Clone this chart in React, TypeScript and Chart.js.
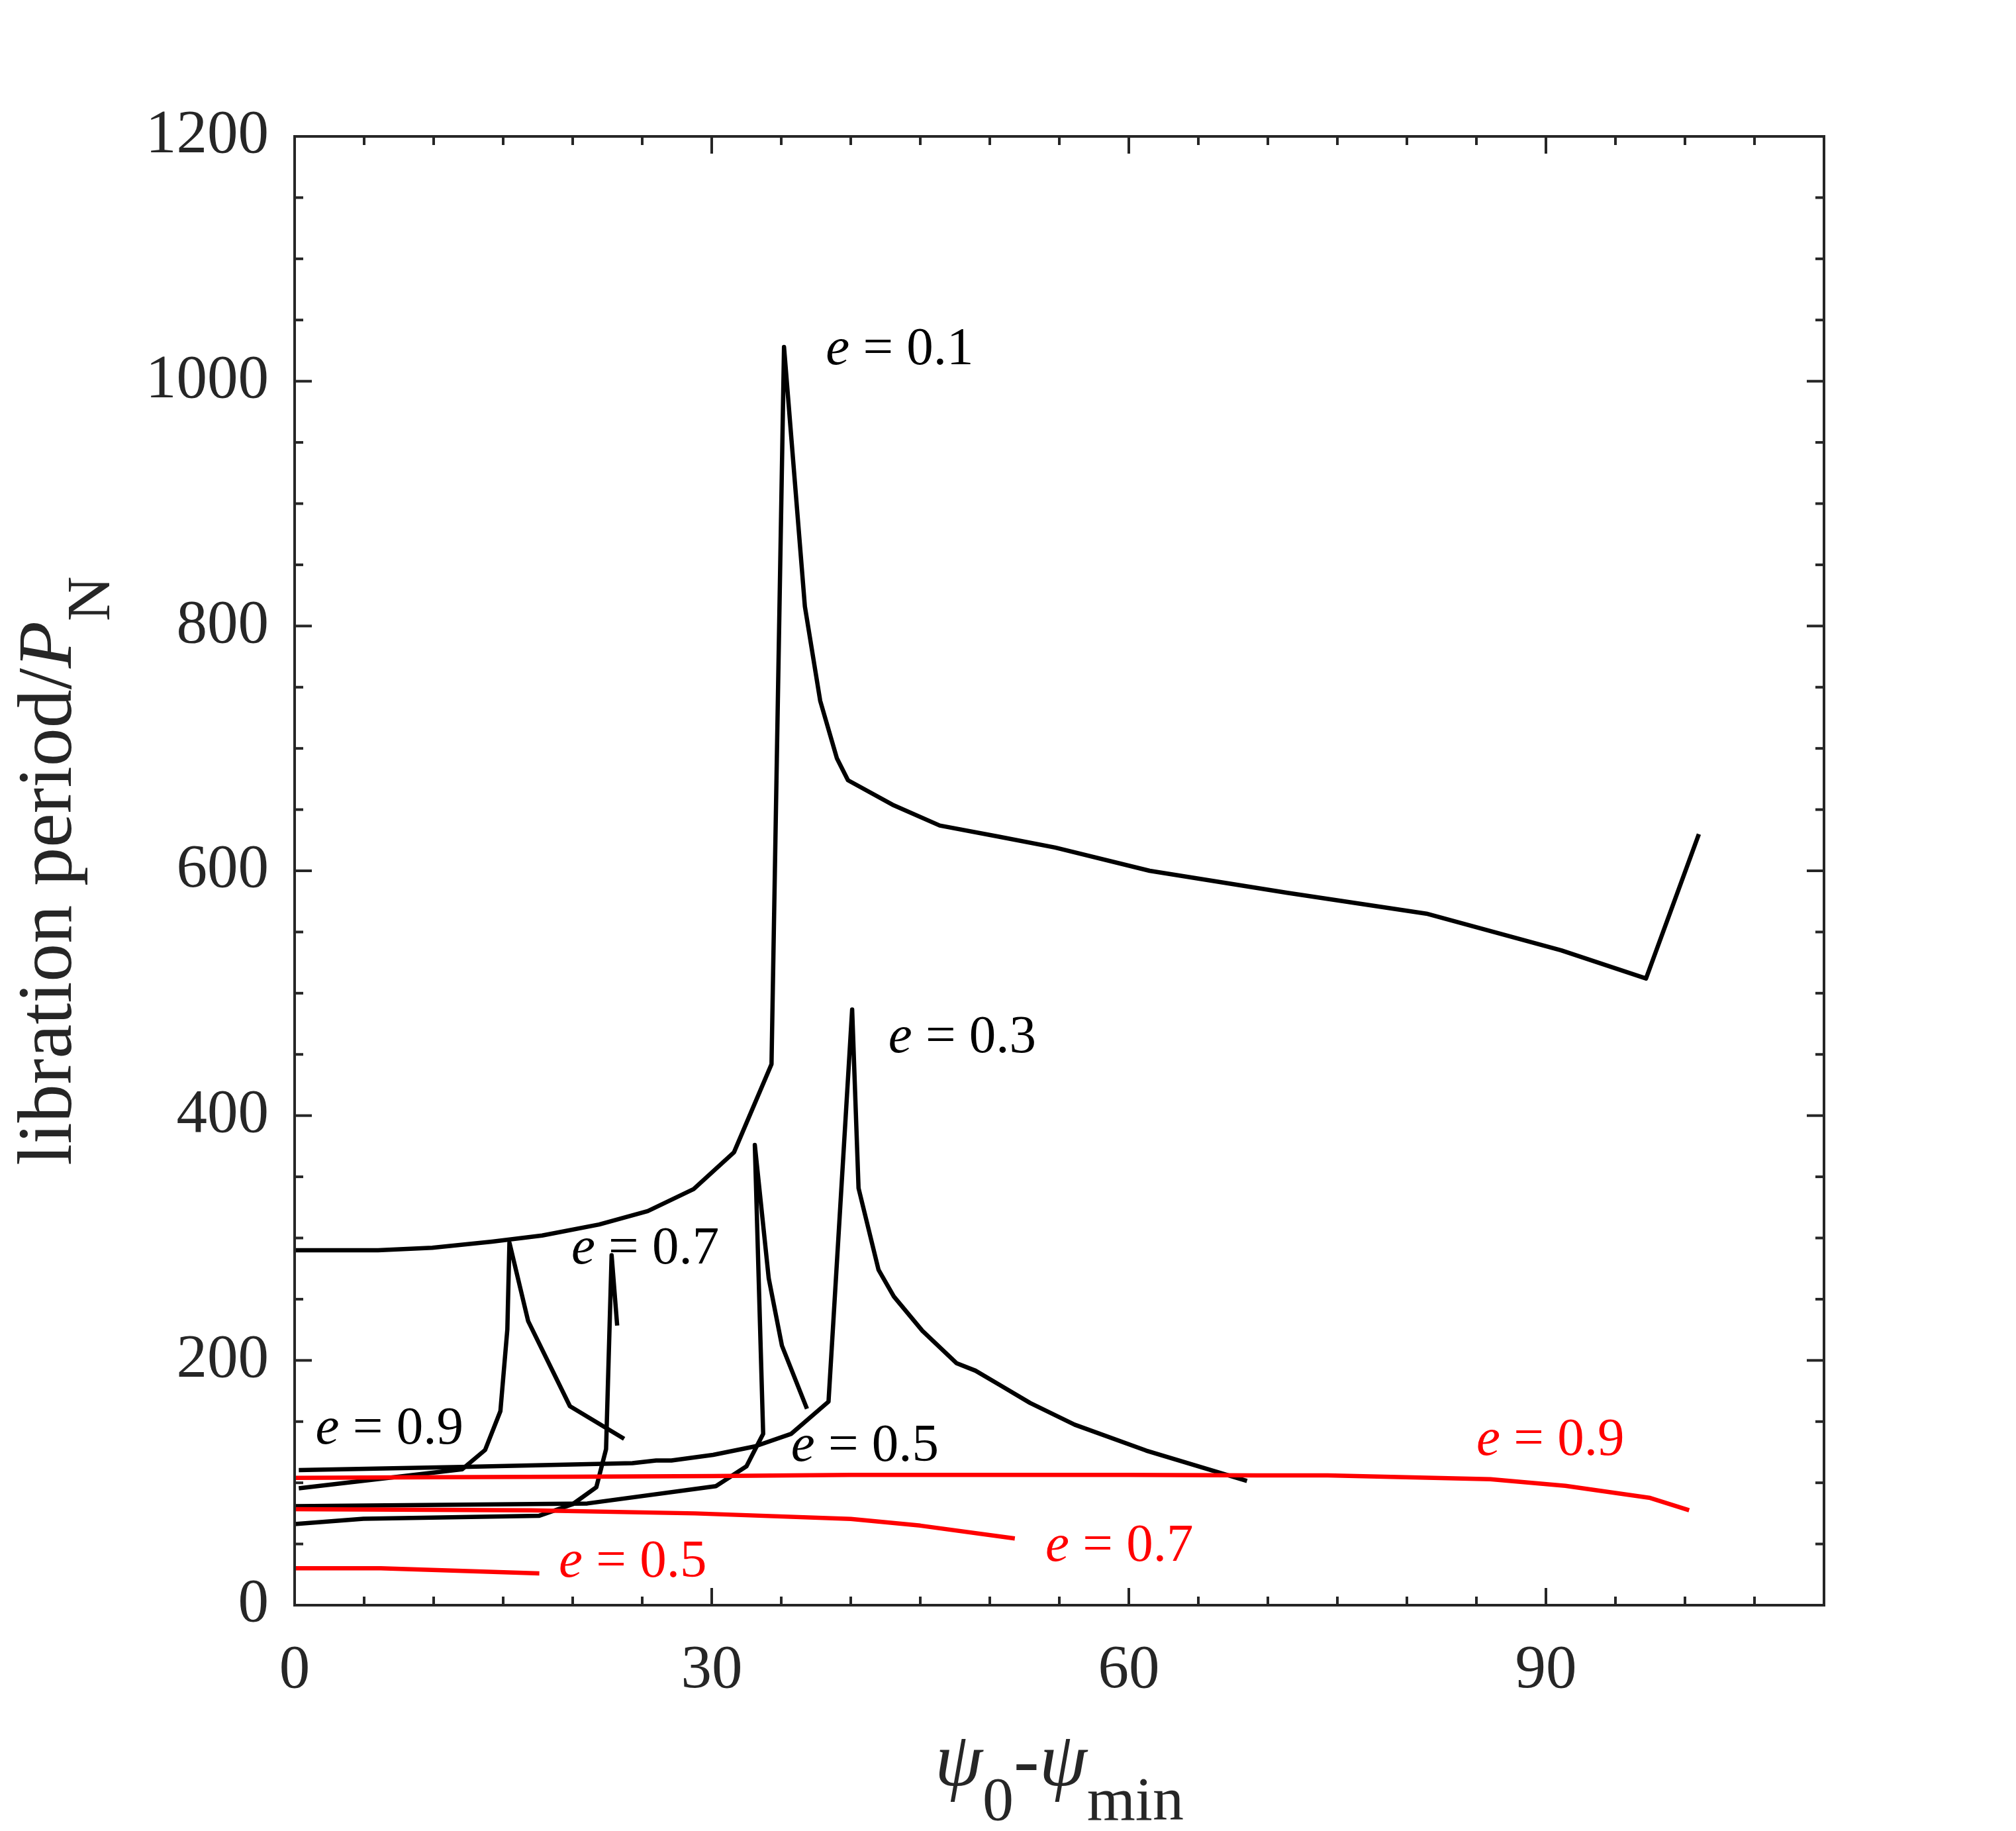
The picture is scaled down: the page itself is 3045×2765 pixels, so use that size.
import React, { useEffect, useRef } from "react";
import { Chart, registerables } from "chart.js";

Chart.register(...registerables);

const W = 3045;
const H = 2765;
const AXIS = "#262626";
const SERIF = "'Liberation Serif', 'Times New Roman', serif";

// black curves, [psi0 - psimin, libration period / P_N]
const e01Black: [number, number][] = [
  [0, 290], [6, 290], [9.9, 292], [14.2, 297], [17.8, 302], [21.9, 311],
  [25.4, 322], [28.7, 340], [31.6, 370], [34.3, 442], [35.2, 1028],
  [36.7, 816], [37.8, 739], [39.0, 692], [39.8, 674], [43.0, 654],
  [46.4, 637], [50.6, 628], [54.7, 619], [61.5, 600], [71.4, 582],
  [81.4, 565], [91.1, 535], [97.2, 512], [101.0, 630],
];
const e03Black: [number, number][] = [
  [0.3, 110.4], [12, 113], [24.3, 116], [26, 118.2], [27.1, 118.2],
  [30.1, 122.8], [33.1, 129.7], [35.7, 139.9], [38.4, 166.3], [40.1, 486.7],
  [40.56, 340.7], [42.0, 273.9], [43.1, 252.2], [45.15, 224.2], [47.6, 197.8],
  [48.97, 191.6], [50.6, 180.7], [52.9, 165.2], [56.1, 147.5], [61.25, 126.3],
  [68.5, 101.5],
];
const e05Black: [number, number][] = [
  [0, 80.9], [21.05, 83.1], [30.3, 97.3], [32.5, 113.5], [33.2, 129],
  [33.7, 140], [33.1, 376], [34.1, 267], [35.05, 212], [36.85, 160.5],
];
const e07Black: [number, number][] = [
  [0, 66.3], [4.95, 70.6], [17.6, 73.1], [20, 82.5], [21.7, 96.4],
  [22.4, 127.5], [22.8, 285.9], [23.2, 228.4],
];
const e09Black: [number, number][] = [
  [0.3, 95.5], [12.05, 111], [13.7, 126.8], [14.8, 158.5], [15.3, 225.3],
  [15.45, 296.2], [16.8, 232], [19.8, 162.6], [23.7, 135.9],
];

// red curves
const e05Red: [number, number][] = [[0, 30.2], [6.2, 30.2], [17.6, 26]];
const e07Red: [number, number][] = [
  [0, 78.5], [17, 77.5], [28.8, 75], [40, 70.5], [45, 65], [51.8, 54.5],
];
const e09Red: [number, number][] = [
  [0, 104], [10, 104.5], [20, 105], [30, 105.5], [40, 106.5], [50, 106.5],
  [60, 106.5], [69.2, 106], [74.3, 106], [86, 102.9], [91.4, 97.5],
  [97.5, 87.6], [100.3, 77.6],
];

const xTickLabels = [0, 30, 60, 90];
const yTickLabels = [0, 200, 400, 600, 800, 1000, 1200];
const X_MAX = 110;
const Y_MAX = 1200;
const X_MINOR = 5;
const Y_MINOR = 50;

// curve labels "e = ..." anchored at (x, baseline y) in data units
const curveLabels = [
  { value: "0.1", x: 38.2, y: 1014, color: "#000" },
  { value: "0.3", x: 42.7, y: 452, color: "#000" },
  { value: "0.7", x: 19.9, y: 279, color: "#000" },
  { value: "0.9", x: 1.5, y: 132, color: "#000" },
  { value: "0.5", x: 35.7, y: 118, color: "#000" },
  { value: "0.9", x: 85.0, y: 123, color: "#ff0000" },
  { value: "0.7", x: 54.0, y: 36, color: "#ff0000" },
  { value: "0.5", x: 19.0, y: 23.4, color: "#ff0000" },
];

const toPoints = (arr: [number, number][]) => arr.map(([x, y]) => ({ x, y }));

const line = (data: [number, number][], color: string) => ({
  data: toPoints(data),
  showLine: true,
  borderColor: color,
  backgroundColor: color,
  borderWidth: 6.5,
  borderJoinStyle: "round" as const,
  pointRadius: 0,
  tension: 0,
});

// box + inward ticks on all four sides, like MATLAB's "box on"
const framePlugin = {
  id: "frame",
  afterDraw(chart: any) {
    const { ctx, chartArea: a, scales } = chart;
    const x = scales.x;
    const y = scales.y;
    ctx.save();
    ctx.strokeStyle = AXIS;
    ctx.lineWidth = 4;
    ctx.lineCap = "butt";
    const seg = (x1: number, y1: number, x2: number, y2: number) => {
      ctx.beginPath();
      ctx.moveTo(x1, y1);
      ctx.lineTo(x2, y2);
      ctx.stroke();
    };
    for (let v = 0; v <= X_MAX; v += X_MINOR) {
      const px = x.getPixelForValue(v);
      const len = xTickLabels.includes(v) ? 26 : 13;
      seg(px, a.bottom, px, a.bottom - len);
      seg(px, a.top, px, a.top + len);
    }
    for (let v = 0; v <= Y_MAX; v += Y_MINOR) {
      const py = y.getPixelForValue(v);
      const len = yTickLabels.includes(v) ? 26 : 13;
      seg(a.left, py, a.left + len, py);
      seg(a.right, py, a.right - len, py);
    }
    ctx.strokeRect(a.left, a.top, a.right - a.left, a.bottom - a.top);
    ctx.restore();
  },
};

const labelPlugin = {
  id: "curveLabels",
  afterDatasetsDraw(chart: any) {
    const { ctx, scales } = chart;
    ctx.save();
    ctx.textBaseline = "alphabetic";
    ctx.textAlign = "left";
    curveLabels.forEach((l) => {
      const px = scales.x.getPixelForValue(l.x);
      const py = scales.y.getPixelForValue(l.y);
      ctx.fillStyle = l.color;
      ctx.font = `italic 81px ${SERIF}`;
      ctx.fillText("e", px, py);
      const w = ctx.measureText("e").width;
      ctx.font = `81px ${SERIF}`;
      ctx.fillText(` = ${l.value}`, px + w, py);
    });
    ctx.restore();
  },
};

// axis titles with italic symbols and subscripts
const titlePlugin = {
  id: "axisTitles",
  afterDraw(chart: any) {
    const { ctx, chartArea: a } = chart;
    ctx.save();
    ctx.fillStyle = AXIS;
    ctx.textBaseline = "alphabetic";
    ctx.textAlign = "left";

    const main = `116px ${SERIF}`;
    const mainIt = `italic 116px ${SERIF}`;
    const sub = `94px ${SERIF}`;

    // x title: psi_0 - psi_min
    const xParts = [
      { t: "\u03C8", f: mainIt, dy: 0 },
      { t: "0", f: sub, dy: 52 },
      { t: "-", f: main, dy: 0 },
      { t: "\u03C8", f: mainIt, dy: 0 },
      { t: "min", f: sub, dy: 52 },
    ];
    let total = 0;
    xParts.forEach((p) => {
      ctx.font = p.f;
      total += ctx.measureText(p.t).width;
    });
    let cx = (a.left + a.right) / 2 - total / 2;
    const base = 2696;
    xParts.forEach((p) => {
      ctx.font = p.f;
      ctx.fillText(p.t, cx, base + p.dy);
      cx += ctx.measureText(p.t).width;
    });

    // y title: libration period/P_N
    const yParts = [
      { t: "libration period/", f: main, dy: 0 },
      { t: "P", f: mainIt, dy: 0 },
      { t: "N", f: sub, dy: 58 },
    ];
    total = 0;
    yParts.forEach((p) => {
      ctx.font = p.f;
      total += ctx.measureText(p.t).width;
    });
    ctx.translate(107, (a.top + a.bottom) / 2);
    ctx.rotate(-Math.PI / 2);
    let cy = -total / 2;
    yParts.forEach((p) => {
      ctx.font = p.f;
      ctx.fillText(p.t, cy, p.dy);
      cy += ctx.measureText(p.t).width;
    });
    ctx.restore();
  },
};

const App = () => {
  const canvasRef = useRef<HTMLCanvasElement>(null);

  useEffect(() => {
    if (!canvasRef.current) return;
    const chart = new Chart(canvasRef.current, {
      type: "scatter",
      data: {
        datasets: [
          line(e09Red, "#ff0000"),
          line(e07Red, "#ff0000"),
          line(e05Red, "#ff0000"),
          line(e01Black, "#000000"),
          line(e03Black, "#000000"),
          line(e05Black, "#000000"),
          line(e07Black, "#000000"),
          line(e09Black, "#000000"),
        ],
      },
      options: {
        animation: false,
        responsive: false,
        devicePixelRatio: 1,
        layout: { padding: { top: 206, right: 290, left: 0, bottom: 0 } },
        plugins: {
          legend: { display: false },
          tooltip: { enabled: false },
        },
        scales: {
          x: {
            type: "linear",
            min: 0,
            max: X_MAX,
            grid: { display: false, drawTicks: false },
            border: { display: false },
            ticks: {
              font: { family: SERIF, size: 93 },
              color: AXIS,
              padding: 44,
              maxRotation: 0,
              callback: (v: any) => String(v),
            },
            afterBuildTicks: (scale: any) => {
              scale.ticks = xTickLabels.map((value) => ({ value }));
            },
            afterFit: (scale: any) => {
              scale.height = 341;
            },
          },
          y: {
            type: "linear",
            min: 0,
            max: Y_MAX,
            grid: { display: false, drawTicks: false },
            border: { display: false },
            ticks: {
              font: { family: SERIF, size: 93 },
              color: AXIS,
              padding: 39,
              callback: (v: any) => String(v),
            },
            afterBuildTicks: (scale: any) => {
              scale.ticks = yTickLabels.map((value) => ({ value }));
            },
            afterFit: (scale: any) => {
              scale.width = 445;
            },
          },
        },
      },
      plugins: [labelPlugin, framePlugin, titlePlugin],
    });
    return () => chart.destroy();
  }, []);

  return (
    <div style={{ position: "absolute", left: 0, top: 0, width: W, height: H, background: "#fff" }}>
      <canvas ref={canvasRef} width={W} height={H} style={{ width: W, height: H }} />
    </div>
  );
};

export default App;
